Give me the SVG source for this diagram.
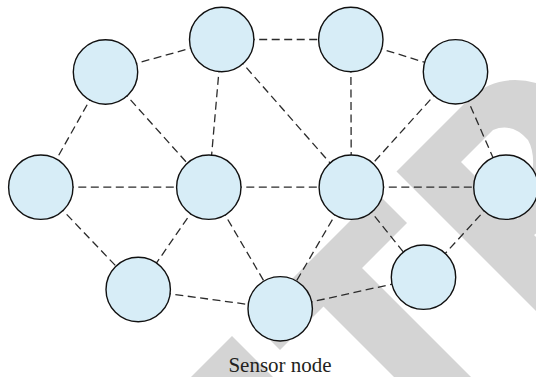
<svg xmlns="http://www.w3.org/2000/svg" width="536" height="377" viewBox="0 0 536 377">
<style>
.wm{fill:#d4d4d4;stroke:none}
.edge{stroke:#2b2b2b;stroke-width:1.3;stroke-dasharray:8 4.5;fill:none}
.node circle{fill:#d7edf7;stroke:#111;stroke-width:1.4}
.lbl{font-family:"Liberation Serif","Times New Roman",serif;font-size:21px;fill:#231f20}
</style>
<rect width="536" height="377" fill="#ffffff"/>
<g id="watermark">
<path class="wm" fill-rule="evenodd" d="M396.5,171.5 L470,98 Q490,80 515,80 Q540,80 560,95 L560,215 L534,235 L560,261 L560,335 Z M461,162 L493,130 Q512,122 528,140 Q542,165 518,219 Z"/>
<polygon class="wm" points="377.5,193.5 407,223 362,268 471,377 394,377 323.5,306.5 280,350 250.5,320.5"/>
<polygon class="wm" points="232,336 191,377 273,377"/>
</g>
<g id="connectors">
<line class="edge" x1="105.5" y1="72" x2="221.7" y2="39.5"/>
<line class="edge" x1="105.5" y1="72" x2="40.8" y2="187.2"/>
<line class="edge" x1="105.5" y1="72" x2="208.8" y2="187.2"/>
<line class="edge" x1="221.7" y1="39.5" x2="350.8" y2="39.5"/>
<line class="edge" x1="221.7" y1="39.5" x2="208.8" y2="187.2"/>
<line class="edge" x1="221.7" y1="39.5" x2="351.3" y2="187.2"/>
<line class="edge" x1="350.8" y1="39.5" x2="455.5" y2="71.8"/>
<line class="edge" x1="350.8" y1="39.5" x2="351.3" y2="187.2"/>
<line class="edge" x1="455.5" y1="71.8" x2="351.3" y2="187.2"/>
<line class="edge" x1="455.5" y1="71.8" x2="505.9" y2="187.2"/>
<line class="edge" x1="40.8" y1="187.2" x2="208.8" y2="187.2"/>
<line class="edge" x1="40.8" y1="187.2" x2="138.2" y2="289.5"/>
<line class="edge" x1="208.8" y1="187.2" x2="351.3" y2="187.2"/>
<line class="edge" x1="208.8" y1="187.2" x2="138.2" y2="289.5"/>
<line class="edge" x1="208.8" y1="187.2" x2="280.2" y2="308.8"/>
<line class="edge" x1="351.3" y1="187.2" x2="505.9" y2="187.2"/>
<line class="edge" x1="351.3" y1="187.2" x2="280.2" y2="308.8"/>
<line class="edge" x1="351.3" y1="187.2" x2="423.5" y2="277.2"/>
<line class="edge" x1="505.9" y1="187.2" x2="423.5" y2="277.2"/>
<line class="edge" x1="138.2" y1="289.5" x2="280.2" y2="308.8"/>
<line class="edge" x1="280.2" y1="308.8" x2="423.5" y2="277.2"/>
</g>
<g id="nodeA" class="node"><circle cx="105.5" cy="72" r="32.2"/></g>
<g id="nodeB" class="node"><circle cx="221.7" cy="39.5" r="32.2"/></g>
<g id="nodeC" class="node"><circle cx="350.8" cy="39.5" r="32.2"/></g>
<g id="nodeD" class="node"><circle cx="455.5" cy="71.8" r="32.2"/></g>
<g id="nodeE" class="node"><circle cx="40.8" cy="187.2" r="32.2"/></g>
<g id="nodeF" class="node"><circle cx="208.8" cy="187.2" r="32.2"/></g>
<g id="nodeG" class="node"><circle cx="351.3" cy="187.2" r="32.2"/></g>
<g id="nodeH" class="node"><circle cx="505.9" cy="187.2" r="32.2"/></g>
<g id="nodeI" class="node"><circle cx="138.2" cy="289.5" r="32.2"/></g>
<g id="nodeJ" class="node"><circle cx="280.2" cy="308.8" r="32.2"/></g>
<g id="nodeK" class="node"><circle cx="423.5" cy="277.2" r="32.2"/></g>
<g id="caption">
<text class="lbl" x="280" y="372" text-anchor="middle">Sensor node</text>
</g>
</svg>
